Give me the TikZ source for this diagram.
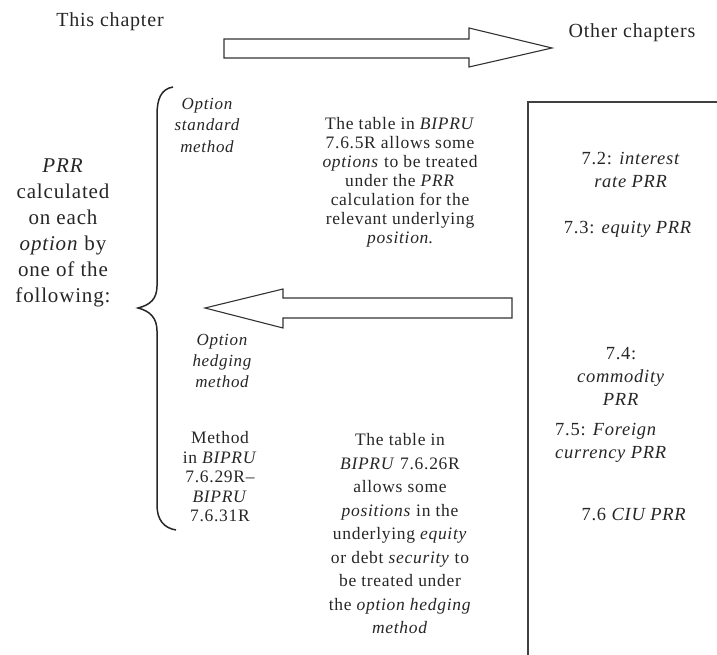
\documentclass[tikz,border=0pt]{standalone}
\usepackage{fontspec}
\setmainfont[LetterSpace=4]{Liberation Serif}
\begin{document}
\begin{tikzpicture}[x=1pt,y=-1pt,
  txt/.style={text=black!85,align=center,inner sep=0pt},
  body/.style={txt,font=\fontsize{17.5}{19}\selectfont},
  label/.style={txt,font=\fontsize{20}{23}\selectfont},
  chap/.style={txt,font=\fontsize{18.5}{23}\selectfont},
  blockarrow/.style={draw=black!80,line width=1.1pt,fill=white,line join=miter},
  frame/.style={draw=black!75,line width=1.6pt}
]
\useasboundingbox (0,0) rectangle (717,655);

% chapter labels and the arrow between them
\node[label] (this) at (110,22) {This chapter};
\node[label] (other) at (632,33) {Other chapters};
\draw[blockarrow] (224,39) -- (469,39) -- (469,28) -- (552,48) -- (469,67)
  -- (469,58) -- (224,58) -- cycle;

% open frame holding the other chapters
\draw[frame] (720,102) -- (528,102) -- (528,660);
\node[chap] (c72) at (631,170) {7.2: \textit{interest}\\\textit{rate PRR}};
\node[chap] (c73) at (628,229) {7.3: \textit{equity PRR}};
\node[chap] (c74) at (621,376) {7.4:\\\textit{commodity}\\\textit{PRR}};
\node[chap,align=left,anchor=west] (c75) at (555,443) {7.5: \textit{Foreign}\\\textit{currency PRR}};
\node[chap] (c76) at (634,515) {7.6 \textit{CIU PRR}};

% arrow back from the other chapters
\draw[blockarrow] (512,298) -- (283,298) -- (283,289) -- (205,308) -- (283,328)
  -- (283,318) -- (512,318) -- cycle;

% left-hand summary and its brace
\node[label,font=\fontsize{21}{26}\selectfont] (prr) at (63,233)
  {\textit{PRR}\\calculated\\on each\\\textit{option} by\\one of the\\following:};
\draw[black!85,line width=1.5pt]
  (173,87) .. controls (161,89) and (157,99) .. (157,115) -- (157,286)
  .. controls (157,299) and (150,305) .. (138,308)
  .. controls (150,311) and (157,318) .. (157,331) -- (157,505)
  .. controls (157,520) and (164,528) .. (176,530);

% the three methods
\node[body,font=\fontsize{17}{21.5}\selectfont\itshape] (std) at (207,125)
  {Option\\standard\\method};
\node[body] (stdnote) at (400,182)
  {The table in \textit{BIPRU}\\7.6.5R allows some\\\textit{options} to be treated\\
   under the \textit{PRR}\\calculation for the\\relevant underlying\\\textit{position}.};
\node[body,font=\fontsize{17}{21}\selectfont\itshape] (hedge) at (222,361)
  {Option\\hedging\\method};
\node[body,font=\fontsize{17.5}{19.5}\selectfont] (meth) at (220,477)
  {Method\\in \textit{BIPRU}\\7.6.29R--\\\textit{BIPRU}\\7.6.31R};
\node[body,font=\fontsize{17.5}{23.5}\selectfont] (hedgenote) at (400,534)
  {The table in\\\textit{BIPRU} 7.6.26R\\allows some\\\textit{positions} in the\\
   underlying \textit{equity}\\or debt \textit{security} to\\be treated under\\
   the \textit{option hedging}\\\textit{method}};
\end{tikzpicture}
\end{document}
